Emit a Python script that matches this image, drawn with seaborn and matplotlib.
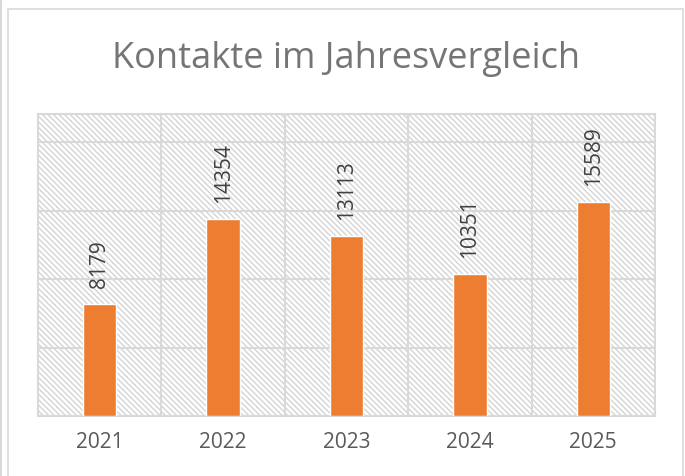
import matplotlib
matplotlib.use("Agg")
import matplotlib.pyplot as plt
import matplotlib.patches as mpatches
import pandas as pd
import seaborn as sns

## data
years = ["2021", "2022", "2023", "2024", "2025"]
contacts = [8179, 14354, 13113, 10351, 15589]
title = "Kontakte im Jahresvergleich"

df = pd.DataFrame({"year": years, "contacts": contacts})

sns.set_theme(style="white")
plt.rcParams["font.family"] = ["Open Sans", "DejaVu Sans"]
plt.rcParams["hatch.color"] = "#d4d4d4"
plt.rcParams["hatch.linewidth"] = 1.0

fig = plt.figure(figsize=(6.85, 4.77), dpi=100)
ax = fig.add_axes([38 / 685, 1 - 417 / 477, 617 / 685, 302 / 477])

# outer chart frame
fig.patches.append(mpatches.Rectangle((8 / 685, -0.1), 675 / 685, 1.1 - 10 / 477,
                                      transform=fig.transFigure, fill=False,
                                      edgecolor="#d9d9d9", linewidth=1.2))
fig.patches.append(mpatches.Rectangle((1 / 685, -0.1), 0, 1.2,
                                      transform=fig.transFigure, fill=False,
                                      edgecolor="#d9d9d9", linewidth=1.2))

# hatched plot area background
ax.patch.set_facecolor("white")
ax.add_patch(mpatches.Rectangle((0, 0), 1, 1, transform=ax.transAxes,
                                facecolor="white", edgecolor="#d4d4d4",
                                hatch="\\\\\\\\\\\\", linewidth=0, zorder=0))

sns.barplot(data=df, x="year", y="contacts", color="#ED7D31", width=0.27,
            saturation=1, ax=ax, zorder=3)

ax.set_ylim(0, 22050)
ax.set_xlim(-0.5, len(years) - 0.5)
ax.set_yticks([0, 5000, 10000, 15000, 20000])
ax.set_yticklabels([])
ax.tick_params(axis="y", length=0)
ax.tick_params(axis="x", length=0, pad=11, labelsize=15, labelcolor="#595959")

# horizontal gridlines and category separators
for yv in [5000, 10000, 15000, 20000]:
    ax.axhline(yv, color="#d9d9d9", linewidth=1.5, zorder=1)
for xv in [0.5, 1.5, 2.5, 3.5]:
    ax.axvline(xv, color="#d9d9d9", linewidth=1.5, zorder=1)
for side in ["top", "right", "bottom", "left"]:
    ax.spines[side].set_color("#d9d9d9")
    ax.spines[side].set_linewidth(1.5)

ax.set_xlabel("")
ax.set_ylabel("")

# value labels
for i, v in enumerate(contacts):
    ax.annotate(str(v), (i, v), xytext=(0, 12.5), textcoords="offset points",
                rotation=90, ha="center", va="bottom", fontsize=15,
                color="#404040")

fig.text((38 + 655) / 2 / 685, 1 - 59 / 477, title, ha="center", va="center",
         fontsize=26, color="#757575")

plt.savefig("out.png", dpi=100)
